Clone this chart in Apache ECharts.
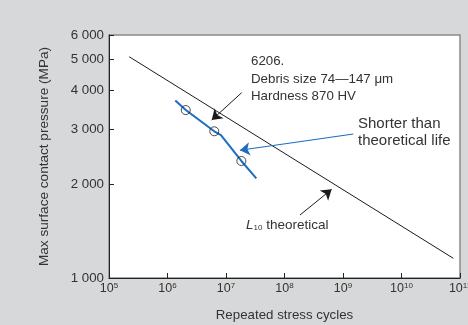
<!DOCTYPE html>
<html>
<head>
<meta charset="utf-8">
<script src="https://cdn.jsdelivr.net/npm/echarts@6/dist/echarts.min.js"></script>
<style>
  html, body { margin: 0; padding: 0; background: #d7d8da; }
  #chart { width: 468px; height: 325px; }
</style>
</head>
<body>
<div id="chart"></div>
<script>
// L10 theoretical life line (cycles, MPa)
const theoryCycles = [2.22e5, 7.7e10];
const theoryPressure = [5110, 1156];

// measured curve for 6206 bearing with debris
const testCycles = [1.36e6, 2.05e6, 6.3e6, 8.2e6, 1.83e7, 3.3e7];
const testPressure = [3700, 3450, 2950, 2870, 2370, 2085];

// open circle test points
const pointCycles = [2.05e6, 6.3e6, 1.83e7];
const pointPressure = [3450, 2950, 2370];

const yTicks = [1000, 2000, 3000, 4000, 5000, 6000];

// annotation arrows: [from, to] in data units
const blackArrows = [
  [[1.85e7, 3920], [5.7e6, 3205]],
  [[1.84e8, 1591], [6.4e8, 1923]]
];
const blueArrows = [
  [[1.5e9, 2891], [1.73e7, 2565]]
];

const font = '"Liberation Sans", Arial, sans-serif';

const chart = echarts.init(document.getElementById('chart'), null, { renderer: 'canvas' });

const zip = (xs, ys) => xs.map((x, i) => [x, ys[i]]);
const fmtThousand = v => {
  const s = String(Math.round(v));
  return s.length > 3 ? s.slice(0, s.length - 3) + ' ' + s.slice(-3) : s;
};

chart.setOption({
  backgroundColor: '#d7d8da',
  animation: false,
  grid: {
    left: 109, right: 8, top: 35, bottom: 47,
    outerBoundsMode: 'none',
    show: true, backgroundColor: '#fff', borderColor: '#8a8a8a', borderWidth: 1.5
  },
  xAxis: {
    type: 'log', logBase: 10, min: 1e5, max: 1e11,
    name: 'Repeated stress cycles', nameLocation: 'middle', nameGap: 31,
    nameTextStyle: { color: '#333', fontSize: 13.3, fontFamily: font },
    axisLine: { lineStyle: { color: '#222', width: 1 } },
    axisTick: { inside: true, length: 5, lineStyle: { color: '#222' } },
    splitLine: { show: false },
    minorTick: { show: false },
    axisLabel: {
      margin: 4,
      hideOverlap: false,
      formatter: v => '{b|10}{s|' + Math.round(Math.log10(v)) + '}',
      rich: {
        b: { fontSize: 12.5, color: '#333', fontFamily: font },
        s: { fontSize: 8, color: '#333', fontFamily: font, verticalAlign: 'top', padding: [0, 0, 6, 0] }
      }
    }
  },
  yAxis: {
    type: 'log', logBase: 10, min: 1000, max: 6000,
    name: 'Max surface contact pressure (MPa)', nameLocation: 'middle', nameGap: 58,
    nameTextStyle: { color: '#333', fontSize: 13.6, fontFamily: font },
    axisLine: { show: true, lineStyle: { color: '#222', width: 1 } },
    axisTick: { inside: true, length: 5, customValues: yTicks, lineStyle: { color: '#222' } },
    splitLine: { show: false },
    axisLabel: {
      customValues: yTicks, margin: 5,
      color: '#333', fontSize: 13.3, fontFamily: font,
      formatter: fmtThousand
    }
  },
  series: [
    {
      type: 'line', data: zip(theoryCycles, theoryPressure),
      symbol: 'none', lineStyle: { color: '#1a1a1a', width: 1 }, z: 2
    },
    {
      type: 'line', data: zip(testCycles, testPressure),
      symbol: 'none', lineStyle: { color: '#1b6ec2', width: 2 }, z: 3
    },
    {
      type: 'scatter', data: zip(pointCycles, pointPressure),
      symbol: 'circle', symbolSize: 9,
      itemStyle: { color: 'rgba(0,0,0,0)', borderColor: '#222', borderWidth: 1 }, z: 4
    },
    {
      type: 'lines', coordinateSystem: 'cartesian2d',
      data: blackArrows.map(c => ({ coords: c })),
      symbol: ['none', 'arrow'], symbolSize: [7, 10],
      lineStyle: { color: '#1a1a1a', width: 1, opacity: 1 }, z: 5
    },
    {
      type: 'lines', coordinateSystem: 'cartesian2d',
      data: blueArrows.map(c => ({ coords: c })),
      symbol: ['none', 'arrow'], symbolSize: [7, 10],
      lineStyle: { color: '#1b6ec2', width: 1.2, opacity: 1 }, z: 5
    }
  ],
  graphic: [
    {
      type: 'text', left: 251, top: 53,
      style: {
        text: '6206.\nDebris size 74\u2014147 \u03bcm\nHardness 870 HV',
        font: '13.3px ' + font, fill: '#333', lineHeight: 17.5
      }
    },
    {
      type: 'text', left: 358, top: 115,
      style: {
        text: 'Shorter than\ntheoretical life',
        font: '15px ' + font, fill: '#333', lineHeight: 17.5
      }
    },
    {
      type: 'text', left: 246, top: 218,
      style: {
        text: '{l|L}{n|10}{t| theoretical}',
        rich: {
          l: { font: 'italic 13.5px ' + font, fill: '#333' },
          n: { font: '8px ' + font, fill: '#333', verticalAlign: 'bottom', padding: [5, 0, 0, 0] },
          t: { font: '13.5px ' + font, fill: '#333' }
        }
      }
    }
  ]
});
</script>
</body>
</html>
